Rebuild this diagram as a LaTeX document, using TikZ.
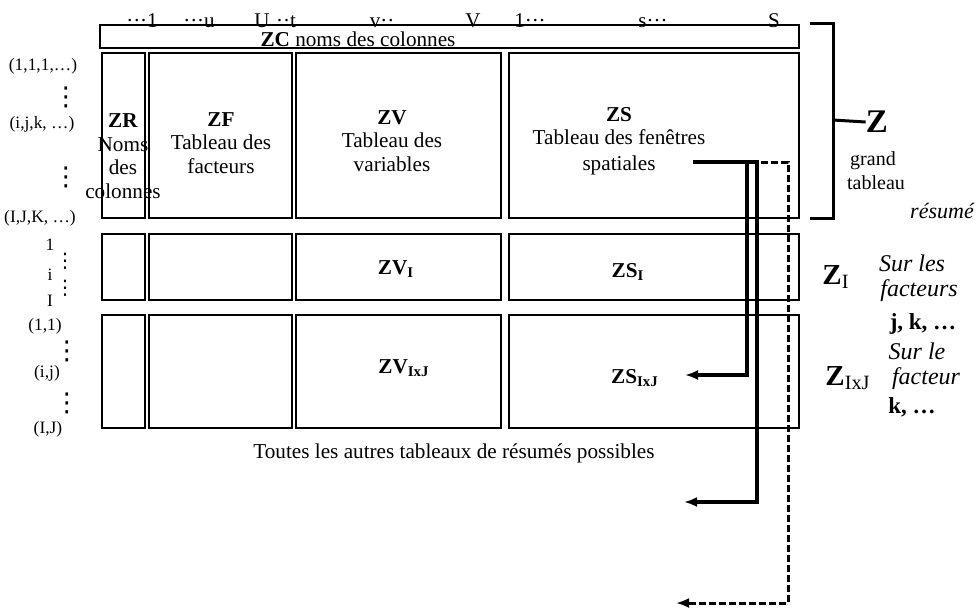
\documentclass[tikz,border=0pt]{standalone}
\usepackage{fontspec}
\setmainfont{Liberation Serif}
\newfontfamily\dvfont{DejaVu Sans}
\usetikzlibrary{arrows.meta}
\begin{document}
\begin{tikzpicture}[x=0.5pt,y=-0.5pt,
  box/.style={draw,line width=1.25pt,inner sep=0pt,outer sep=0pt},
  btxt/.style={font=\fontsize{10.6}{11.8}\selectfont,align=center,inner sep=0pt},
  toplab/.style={font=\fontsize{10.5}{12}\selectfont,inner sep=0pt,anchor=base},
  rowlab/.style={font=\fontsize{8.7}{10}\selectfont,inner sep=0pt},
  vdot/.style={font=\dvfont\fontsize{13}{13}\selectfont,inner sep=0pt,text height=9pt,text depth=0pt},
  vdotsm/.style={font=\dvfont\fontsize{10}{10}\selectfont,inner sep=0pt,text height=7pt,text depth=0pt},
  bigz/.style={font=\fontsize{16.5}{18}\selectfont\bfseries,inner sep=0pt},
  midz/.style={font=\fontsize{14.5}{16}\selectfont,inner sep=0pt},
  sideit/.style={font=\fontsize{12}{14}\selectfont\itshape,inner sep=0pt},
  sidebf/.style={font=\fontsize{11.5}{14}\selectfont\bfseries,inner sep=0pt},
  small/.style={font=\fontsize{10}{12}\selectfont,inner sep=0pt},
  conn/.style={line width=1.6pt},
  dconn/.style={line width=1.5pt,dash pattern=on 3.5pt off 1.5pt},
  tip/.style={-{Latex[length=6.5pt,width=5pt]}},
  bracket/.style={line width=1.5pt}
]
\useasboundingbox (0,0) rectangle (976,612);

% top labels
\node[toplab] (t1) at (142,27) {···1};
\node[toplab] (t2) at (199,27) {···u};
\node[toplab] (t3) at (262,27) {U};
\node[toplab] (t4) at (286,27) {··t};
\node[toplab] (t5) at (382,27) {v··};
\node[toplab] (t6) at (473,27) {V};
\node[toplab] (t7) at (530,27) {1···};
\node[toplab] (t8) at (653,27) {s···};
\node[toplab] (t9) at (774,27) {S};

% column-name box
\node[box,minimum width=349.5pt,minimum height=11.5pt] (zc) at (449.5,36.5) {};
\node[btxt] (zctxt) at (358,39) {\textbf{ZC} noms des colonnes};

% row 1
\node[box,minimum width=21.5pt,minimum height=82.5pt] (zr1) at (123.5,135.5) {};
\node[box,minimum width=71.5pt,minimum height=82.5pt] (zf1) at (220.5,135.5) {};
\node[box,minimum width=102.5pt,minimum height=82.5pt] (zv1) at (398.5,135.5) {};
\node[box,minimum width=145pt,minimum height=82.5pt] (zs1) at (654,135.5) {};
% row 2
\node[box,minimum width=21.5pt,minimum height=33pt] (zr2) at (123.5,267) {};
\node[box,minimum width=71.5pt,minimum height=33pt] (zf2) at (220.5,267) {};
\node[box,minimum width=102.5pt,minimum height=33pt] (zv2) at (398.5,267) {};
\node[box,minimum width=145pt,minimum height=33pt] (zs2) at (654,267) {};
% row 3
\node[box,minimum width=21.5pt,minimum height=56.5pt] (zr3) at (123.5,371.5) {};
\node[box,minimum width=71.5pt,minimum height=56.5pt] (zf3) at (220.5,371.5) {};
\node[box,minimum width=102.5pt,minimum height=56.5pt] (zv3) at (398.5,371.5) {};
\node[box,minimum width=145pt,minimum height=56.5pt] (zs3) at (654,371.5) {};

% box texts
\node[btxt] (tzr) at (123,156) {\textbf{ZR}\\Noms\\des\\colonnes};
\node[btxt] (tzf) at (221,143) {\textbf{ZF}\\Tableau des\\facteurs};
\node[btxt] (tzv) at (392,141) {\textbf{ZV}\\Tableau des\\variables};
\node[btxt] (tzs) at (619,141) {\textbf{ZS}\\Tableau des fenêtres\\[1pt]spatiales};
\node[btxt] (tzv2) at (396,269) {\textbf{ZV\textsubscript{I}}};
\node[btxt] (tzs2) at (628,272) {\textbf{ZS\textsubscript{I}}};
\node[btxt] (tzv3) at (404,368) {\textbf{ZV\textsubscript{IxJ}}};
\node[btxt] (tzs3) at (635,378) {\textbf{ZS\textsubscript{IxJ}}};

% left row labels
\node[rowlab] (l1) at (43,66) {(1,1,1,…)};
\node[vdot] (v1) at (66,96) {⋮};
\node[rowlab] (l2) at (42,124) {(i,j,k, …)};
\node[vdot] (v2) at (66,176) {⋮};
\node[rowlab] (l3) at (40,218) {(I,J,K, …)};
\node[rowlab] (m1) at (50,245) {1};
\node[vdotsm] (v3) at (65,260) {⋮};
\node[rowlab] (m2) at (50,275) {i};
\node[vdotsm] (v4) at (65,287) {⋮};
\node[rowlab] (m3) at (50,301) {I};
\node[rowlab] (n1) at (45,326) {(1,1)};
\node[vdot] (v5) at (67,350) {⋮};
\node[rowlab] (n2) at (47,373) {(i,j)};
\node[vdot] (v6) at (67,402) {⋮};
\node[rowlab] (n3) at (48,429) {(I,J)};

% right side
\draw[bracket] (810,23) -- (833,23) -- (833,218) -- (810,218);
\coordinate (tk) at (833,120);
\node[bigz] (z) at (877,122) {Z};
\draw[bracket] (tk) -- (z.west);
\node[small] (grand) at (873,161) {grand};
\node[small] (tab) at (876,183) {tableau};
\node[font=\fontsize{11}{12}\selectfont\itshape,inner sep=0pt] (res) at (942,211) {résumé};

\node[midz] (zi) at (836,277) {\textbf{Z}\textsubscript{I}};
\node[midz] (zij) at (848,378) {\textbf{Z}\textsubscript{IxJ}};
\node[sideit] (s1) at (912,263) {Sur les};
\node[sideit] (s2) at (919,291) {facteurs};
\node[sidebf] (s3) at (923,324) {j, k, …};
\node[sideit] (s4) at (917,351) {Sur le};
\node[sideit] (s5) at (926,379) {facteur};
\node[sidebf] (s6) at (912,407) {k, …};

% caption
\node[btxt] (cap) at (454,453) {Toutes les autres tableaux de résumés possibles};

% arrows
\coordinate (a0) at (693,162);
\coordinate (a1) at (747,162);
\coordinate (a2) at (757,162);
\coordinate (a1b) at (747,375);
\coordinate (a1e) at (685,375);
\coordinate (a2b) at (757,502);
\coordinate (a2e) at (684,502);
\coordinate (d0) at (761,162);
\coordinate (d1) at (788,162);
\coordinate (d2) at (788,603);
\coordinate (d3) at (676,603);
\draw[conn,tip] (a0) -- (a2) -- (a2b) -- (a2e);
\draw[conn,tip] (a1) -- (a1b) -- (a1e);
\draw[dconn,tip] (d0) -- (d1) -- (d2) -- (d3);
\end{tikzpicture}
\end{document}
